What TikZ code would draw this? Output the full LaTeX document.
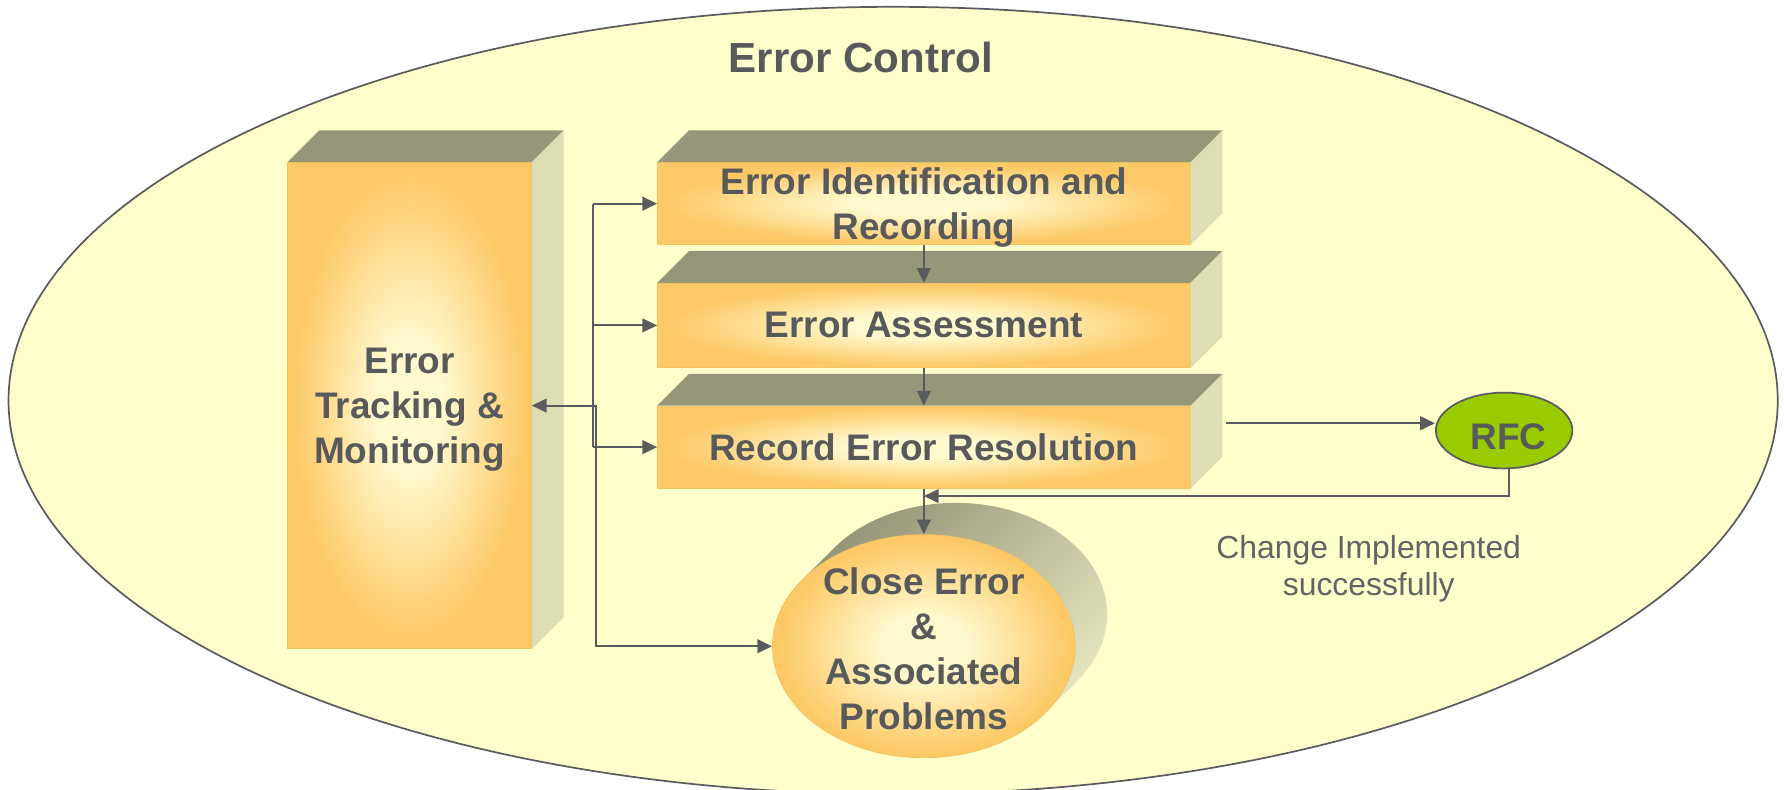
\documentclass[tikz,border=0pt]{standalone}
\usepackage{fontspec}
\setmainfont{Liberation Sans}
\usetikzlibrary{shapes.geometric,arrows.meta}
\definecolor{bgY}{RGB}{255,255,204}
\definecolor{lineG}{RGB}{90,91,94}
\definecolor{txtG}{RGB}{88,89,91}
\definecolor{chgG}{RGB}{98,99,101}
\definecolor{topF}{RGB}{150,150,120}
\definecolor{sideF}{RGB}{222,222,181}
\definecolor{orA}{RGB}{253,201,102}
\definecolor{cream}{RGB}{255,249,206}
\definecolor{shDark}{RGB}{148,148,118}
\definecolor{shLight}{RGB}{228,228,190}
\definecolor{rfcG}{RGB}{153,204,0}
\definecolor{edgeO}{RGB}{242,196,100}
\pgfdeclareradialshading{boxshade}{\pgfpoint{0bp}{0bp}}{color(0bp)=(cream); color(7bp)=(cream); color(24bp)=(orA); color(50bp)=(orA)}
\begin{document}
\begin{tikzpicture}[x=1pt,y=1pt,
  conn/.style={draw=lineG, line width=1.8pt},
  arr/.style={conn, -{Triangle[length=13pt,width=12pt]}},
  front/.style={rectangle, inner sep=0pt, shade, shading=boxshade, draw=edgeO, line width=0.8pt,
    text=txtG, font=\bfseries\fontsize{32.5}{39.6}\selectfont, align=center},
  lbl/.style={text=txtG, font=\bfseries\fontsize{32.5}{39.6}\selectfont, align=center, inner sep=0pt}]
\useasboundingbox (0,0) rectangle (1568,-694);
\fill[white] (0,0) rectangle (1568,-694);
% outer ellipse
\draw[fill=bgY, draw=lineG, line width=1.5pt] (785,-352) ellipse [x radius=777.5pt, y radius=346pt];
% title
\node[text=txtG, font=\bfseries\fontsize{37}{44}\selectfont, inner sep=0pt, anchor=base] (ttl) at (756.7,-63.9) {Error Control};
% tall box
\node[front, minimum width=214pt, minimum height=427pt] (trk) at (360,-356.5) {Error\\Tracking \&\\\smash{Monitoring}};
\fill[topF] (trk.north west) -- ++(28,28) -- ([shift={(28,28)}]trk.north east) -- (trk.north east) -- cycle;
\fill[sideF] (trk.north east) -- ++(28,28) -- ([shift={(28,28)}]trk.south east) -- (trk.south east) -- cycle;
% three boxes
\node[front, minimum width=468pt, minimum height=72pt] (b1) at (812,-179) {Error Identification and\\\smash{Recording}};
\node[front, minimum width=468pt, minimum height=74pt] (b2) at (812,-286) {Error Assessment};
\node[front, minimum width=468pt, minimum height=72pt] (b3) at (812,-393) {Record Error Resolution};
\foreach \b in {b1,b2,b3}{
  \fill[topF] (\b.north west) -- ++(28,28) -- ([shift={(28,28)}]\b.north east) -- (\b.north east) -- cycle;
  \fill[sideF] (\b.north east) -- ++(28,28) -- ([shift={(28,28)}]\b.south east) -- (\b.south east) -- cycle;
}
% close error cylinder
\shade[top color=shDark, bottom color=shLight, shading angle=45]
  (733,-481.8) arc[start angle=143.6, end angle=-36.4, x radius=133pt, y radius=98pt]
  -- (919,-626.2) -- (705,-509.8) -- cycle;
\node[ellipse, inner sep=0pt, shade, shading=boxshade, draw=edgeO, line width=0.8pt,
  minimum width=266pt, minimum height=196pt] (close) at (812,-568) {};
\node[lbl] (closeT) at (812,-570) {Close Error\\\&\\Associated\\Problems};
% RFC
\node[ellipse, fill=rfcG, draw=lineG, line width=1.5pt, minimum width=120pt, minimum height=66.6pt, inner sep=0pt] (rfc) at (1322,-378.4) {};
\node[lbl] (rfcT) at (1326,-383.5) {RFC};
% change text
\node[text=chgG, font=\fontsize{28}{32.5}\selectfont, align=center, inner sep=0pt] (chg) at (1203,-497) {Change Implemented\\\smash{successfully}};
% connectors
\coordinate (busA) at (521,0);
\coordinate (busB) at (524,0);
\coordinate (retY) at (0,-436);
\draw[conn] (busA |- b1.west) -- (busA |- b3.west);
\draw[arr] (busA |- b1.west) -- (b1.west);
\draw[arr] (busA |- b2.west) -- (b2.west);
\draw[arr] (busA |- b3.west) -- (b3.west);
\draw[conn, {Triangle[length=13pt,width=12pt]}-{Triangle[length=13pt,width=12pt]}]
  (trk.east) -- (busB |- trk.east) -- (busB |- close.west) -- (close.west);
\draw[arr] (b1.south) -- (b2.north);
\draw[arr] (b2.south) -- (b3.north);
\draw[arr] (b3.south) -- (close.north);
\path (b3.east) ++(31,21) coordinate (rfcIn);
\draw[arr] (rfcIn) -- (rfcIn -| rfc.west);
\coordinate (rfcOut) at ([xshift=4pt]rfc.south);
\draw[arr] (rfcOut) -- (rfcOut |- retY) -- (b3.south |- retY);
\end{tikzpicture}
\end{document}
